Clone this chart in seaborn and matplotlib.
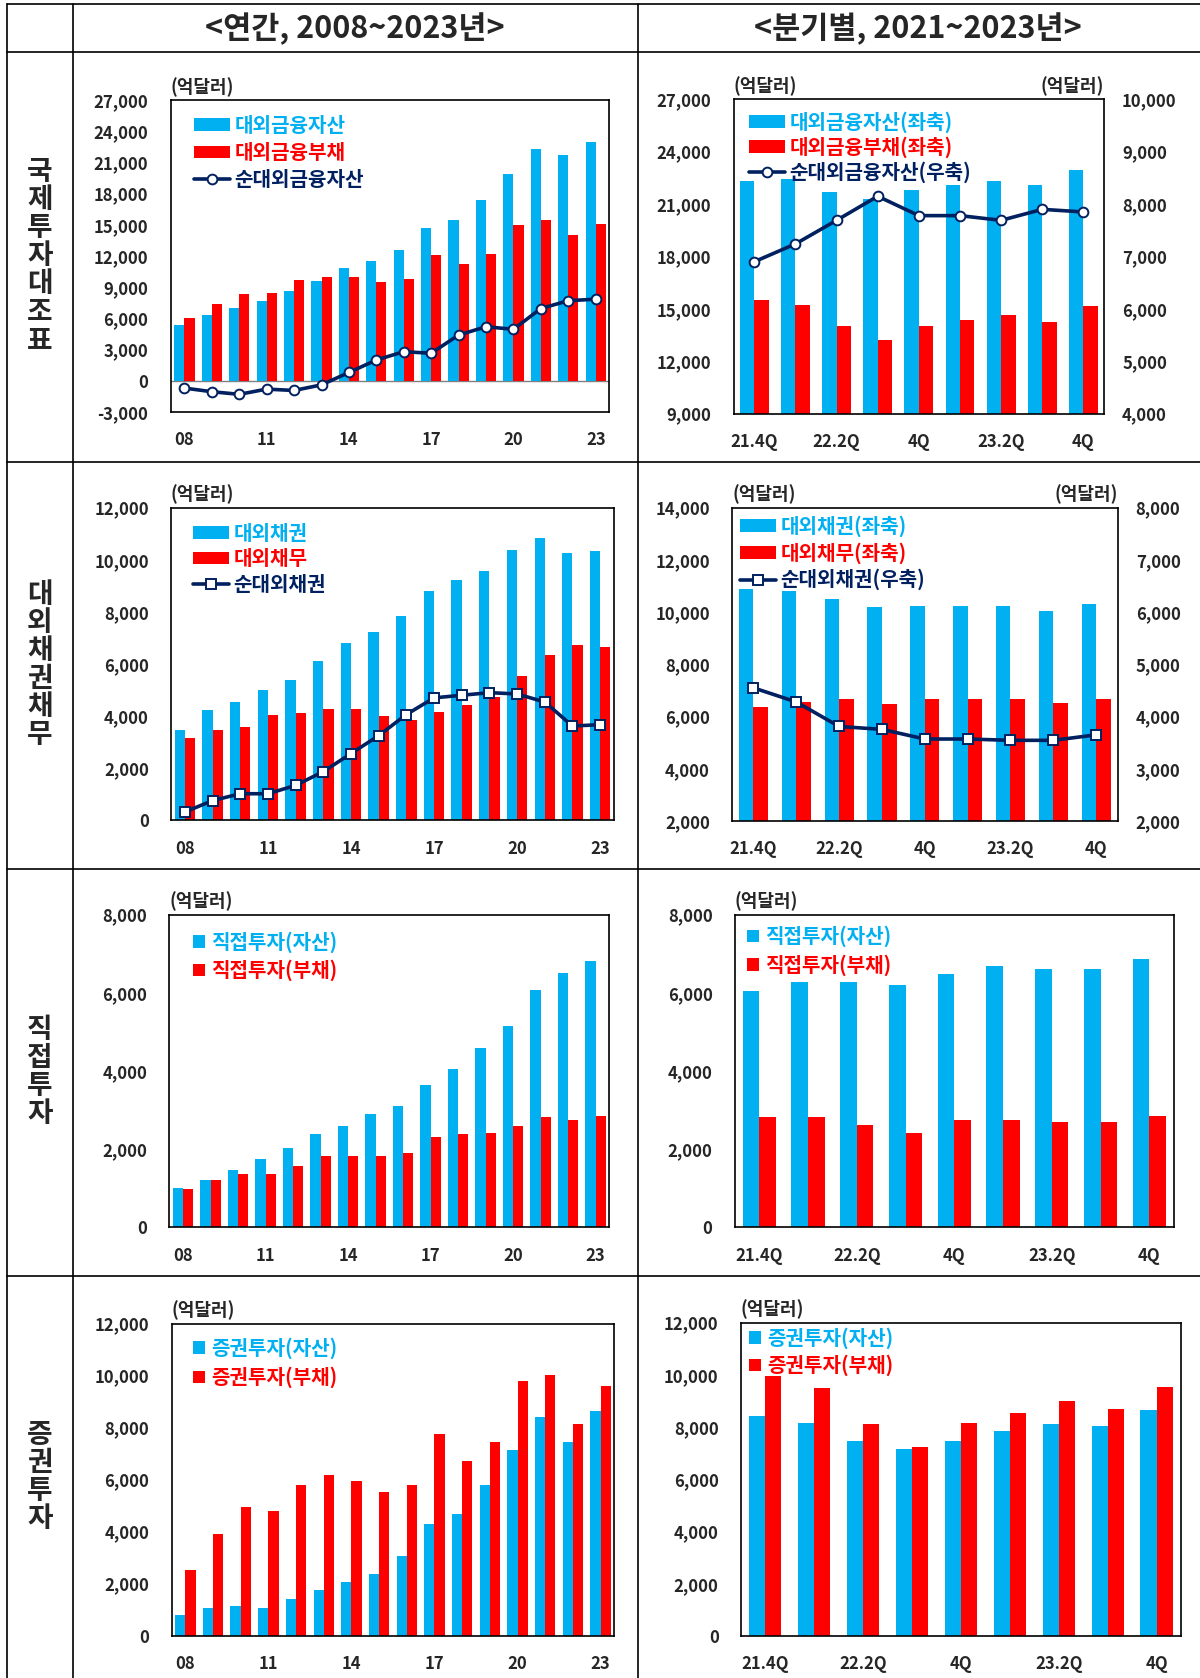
import numpy as np
import pandas as pd
import seaborn as sns
import matplotlib.pyplot as plt
from matplotlib.ticker import FuncFormatter
from matplotlib.patches import Patch
from matplotlib.lines import Line2D

sns.set_style('white')
plt.rcParams['font.family'] = ['Noto Sans CJK KR', 'DejaVu Sans']
plt.rcParams['font.weight'] = 'bold'

# ---- data (억달러) ----
years = ['08', '09', '10', '11', '12', '13', '14', '15',
         '16', '17', '18', '19', '20', '21', '22', '23']
year_ticks = ['08', '', '', '11', '', '', '14', '', '', '17', '', '', '20', '', '', '23']
quarters = ['21.4Q', '22.1Q', '22.2Q', '22.3Q', '22.4Q', '23.1Q', '23.2Q', '23.3Q', '23.4Q']
quarter_ticks = ['21.4Q', '', '22.2Q', '', '4Q', '', '23.2Q', '', '4Q']

# 국제투자대조표
iip_asset_y = [5400, 6300, 7000, 7650, 8600, 9600, 10800, 11500,
               12550, 14700, 15500, 17350, 19900, 22300, 21750, 23000]
iip_liab_y = [6040, 7350, 8300, 8400, 9650, 10000, 10000, 9500,
              9750, 12050, 11250, 12150, 15000, 15500, 14050, 15100]
iip_net_y = [-700, -1050, -1300, -800, -930, -390, 800, 2000,
             2800, 2650, 4400, 5200, 4950, 6950, 7700, 7850]
iip_asset_q = [22350, 22450, 21700, 21300, 21800, 22100, 22350, 22100, 22950]
iip_liab_q = [15500, 15200, 14000, 13200, 14000, 14350, 14650, 14250, 15150]
iip_net_q = [6900, 7240, 7690, 8150, 7780, 7780, 7690, 7900, 7850]

# 대외채권채무
debt_claim_y = [3480, 4220, 4540, 5020, 5390, 6130, 6820, 7240,
                7830, 8790, 9210, 9580, 10380, 10850, 10280, 10330]
debt_liab_y = [3160, 3480, 3580, 4060, 4120, 4270, 4270, 4000,
               3850, 4170, 4430, 4750, 5540, 6350, 6720, 6650]
debt_net_y = [320, 755, 1020, 1020, 1340, 1870, 2560, 3250,
              4060, 4700, 4800, 4900, 4850, 4540, 3620, 3670]
debt_claim_q = [10870, 10820, 10500, 10190, 10250, 10250, 10250, 10030, 10300]
debt_liab_q = [6350, 6570, 6670, 6470, 6670, 6670, 6670, 6520, 6670]
debt_net_q = [4550, 4280, 3810, 3755, 3570, 3570, 3545, 3545, 3650]

# 직접투자
fdi_asset_y = [1000, 1220, 1470, 1750, 2030, 2390, 2600, 2890,
               3100, 3630, 4050, 4590, 5160, 6070, 6510, 6820]
fdi_liab_y = [970, 1220, 1360, 1360, 1580, 1830, 1830, 1830,
              1890, 2320, 2390, 2420, 2600, 2810, 2750, 2850]
fdi_asset_q = [6060, 6280, 6280, 6200, 6490, 6680, 6600, 6600, 6860]
fdi_liab_q = [2810, 2810, 2630, 2410, 2740, 2740, 2700, 2700, 2850]

# 증권투자
port_asset_y = [780, 1050, 1150, 1050, 1420, 1740, 2060, 2380,
                3080, 4310, 4680, 5800, 7140, 8410, 7450, 8630]
port_liab_y = [2540, 3920, 4940, 4780, 5800, 6170, 5950, 5530,
               5800, 7770, 6710, 7450, 9800, 10010, 8140, 9590]
port_asset_q = [8420, 8160, 7470, 7150, 7470, 7840, 8110, 8040, 8640]
port_liab_q = [9960, 9480, 8110, 7250, 8160, 8530, 9000, 8680, 9530]

BLUE = '#00B0F0'
RED = '#FF0000'
NAVY = '#002060'
W, H = 1200, 1678

fig = plt.figure(figsize=(W / 100, H / 100), dpi=100)

# background table
bg = fig.add_axes([0, 0, 1, 1], zorder=-1)
bg.set_xlim(0, W)
bg.set_ylim(H, 0)
bg.axis('off')
for x in [7, 73, 637.5]:
    bg.plot([x, x], [4, H], color='black', lw=1.2)
for y in [4, 52, 462, 869, 1276]:
    bg.plot([7, W], [y, y], color='black', lw=1.2)
bg.text(355, 29, '<연간, 2008~2023년>', ha='center', va='center', fontsize=22)
bg.text(918, 29, '<분기별, 2021~2023년>', ha='center', va='center', fontsize=22)
for label, yc in [('국제투자대조표', 256), ('대외채권채무', 665),
                  ('직접투자', 1072), ('증권투자', 1477)]:
    bg.text(40, yc, '\n'.join(label), ha='center', va='center',
            fontsize=20, linespacing=1.0)


def rect(x0, y0, x1, y1):
    return [x0 / W, 1 - y1 / H, (x1 - x0) / W, (y1 - y0) / H]


fmt = FuncFormatter(lambda v, p: f'{v:,.0f}')


def panel(box, cats, ticklabels, a, l, ylim, ystep, width):
    ax = fig.add_axes(rect(*box))
    df = pd.DataFrame({'cat': cats * 2, 'val': a + l,
                       'kind': ['a'] * len(cats) + ['l'] * len(cats)})
    sns.barplot(data=df, x='cat', y='val', hue='kind', order=cats,
                palette=[BLUE, RED], width=width, gap=0, linewidth=0,
                saturation=1, errorbar=None, legend=False, ax=ax)
    ax.set_xlabel('')
    ax.set_ylabel('')
    ax.set_ylim(*ylim)
    ax.set_yticks(np.arange(ylim[0], ylim[1] + 1, ystep))
    ax.yaxis.set_major_formatter(fmt)
    ax.set_xticks(range(len(cats)))
    ax.set_xticklabels(ticklabels)
    ax.set_xlim(-0.5, len(cats) - 0.5)
    ax.tick_params(axis='y', length=0, labelsize=12, pad=16)
    ax.tick_params(axis='x', length=0, labelsize=12, pad=14)
    for s in ax.spines.values():
        s.set_color('black')
        s.set_linewidth(1.2)
    ax.text(0, 1.01, '(억달러)', transform=ax.transAxes, ha='left',
            va='bottom', fontsize=13)
    return ax


def add_line(ax, y, marker, ms):
    sns.lineplot(x=np.arange(len(y)), y=y, ax=ax, color=NAVY, lw=2.6,
                 marker=marker, markersize=ms, markerfacecolor='white',
                 markeredgecolor=NAVY, markeredgewidth=1.4, zorder=5)
    ax.set_xlim(-0.5, len(y) - 0.5)


def twin(ax, ylim, ystep):
    ax2 = ax.twinx()
    ax2.set_ylim(*ylim)
    ax2.set_yticks(np.arange(ylim[0], ylim[1] + 1, ystep))
    ax2.yaxis.set_major_formatter(fmt)
    ax2.tick_params(axis='y', length=0, labelsize=12, pad=13)
    for s in ax2.spines.values():
        s.set_visible(False)
    ax2.text(1, 1.01, '(억달러)', transform=ax2.transAxes, ha='right',
             va='bottom', fontsize=13)
    return ax2


def legend(ax, labels, colors, kinds, fx, fy, spacing):
    handles = []
    for c, k in zip(colors, kinds):
        if k == 'bar':
            handles.append(Patch(facecolor=c, edgecolor='none'))
        else:
            handles.append(Line2D([], [], color=NAVY, lw=2.6, marker=k,
                                  markersize=7, markerfacecolor='white',
                                  markeredgecolor=NAVY, markeredgewidth=1.4))
    big = len(kinds) == 3
    ax.legend(handles, labels, loc='upper left', bbox_to_anchor=(fx, fy),
              bbox_transform=ax.transAxes, frameon=False, borderpad=0,
              borderaxespad=0, fontsize=14.5, labelcolor=colors,
              handlelength=1.8 if big else 0.6,
              handleheight=0.6, handletextpad=0.2 if big else 0.3,
              labelspacing=spacing)


# row 1
ax = panel((170.7, 100, 609.4, 412), years, year_ticks,
           iip_asset_y, iip_liab_y, (-3000, 27000), 3000, 0.74)
ax.axhline(0, color='#808080', lw=1, zorder=0.5)
add_line(ax, iip_net_y, 'o', 7)
legend(ax, ['대외금융자산', '대외금융부채', '순대외금융자산'],
       [BLUE, RED, NAVY], ['bar', 'bar', 'o'], 0.053, 0.952, 0.3)

ax = panel((733.7, 99.3, 1104, 413.7), quarters, quarter_ticks,
           iip_asset_q, iip_liab_q, (9000, 27000), 3000, 0.70)
ax2 = twin(ax, (4000, 10000), 1000)
add_line(ax2, iip_net_q, 'o', 7)
legend(ax, ['대외금융자산(좌축)', '대외금융부채(좌축)', '순대외금융자산(우축)'],
       [BLUE, RED, NAVY], ['bar', 'bar', 'o'], 0.041, 0.963, 0.17)

# row 2
ax = panel((171, 507.7, 614, 820.3), years, year_ticks,
           debt_claim_y, debt_liab_y, (0, 12000), 2000, 0.74)
add_line(ax, debt_net_y, 's', 6.5)
legend(ax, ['대외채권', '대외채무', '순대외채권'],
       [BLUE, RED, NAVY], ['bar', 'bar', 's'], 0.05, 0.952, 0.22)

ax = panel((732, 507.7, 1117.6, 821), quarters, quarter_ticks,
           debt_claim_q, debt_liab_q, (2000, 14000), 2000, 0.68)
ax2 = twin(ax, (2000, 8000), 1000)
add_line(ax2, debt_net_q, 's', 6.5)
legend(ax, ['대외채권(좌축)', '대외채무(좌축)', '순대외채권(우축)'],
       [BLUE, RED, NAVY], ['bar', 'bar', 's'], 0.021, 0.975, 0.25)

# row 3
ax = panel((169.3, 914.7, 609.4, 1227.3), years, year_ticks,
           fdi_asset_y, fdi_liab_y, (0, 8000), 2000, 0.74)
legend(ax, ['직접투자(자산)', '직접투자(부채)'], [BLUE, RED],
       ['bar', 'bar'], 0.054, 0.948, 0.35)

ax = panel((734.8, 914.7, 1173.8, 1227.3), quarters, quarter_ticks,
           fdi_asset_q, fdi_liab_q, (0, 8000), 2000, 0.68)
legend(ax, ['직접투자(자산)', '직접투자(부채)'], [BLUE, RED],
       ['bar', 'bar'], 0.027, 0.965, 0.35)

# row 4
ax = panel((171.5, 1323.7, 614.4, 1635.7), years, year_ticks,
           port_asset_y, port_liab_y, (0, 12000), 2000, 0.74)
legend(ax, ['증권투자(자산)', '증권투자(부채)'], [BLUE, RED],
       ['bar', 'bar'], 0.049, 0.957, 0.4)

ax = panel((740.9, 1322.7, 1181, 1636), quarters, quarter_ticks,
           port_asset_q, port_liab_q, (0, 12000), 2000, 0.66)
legend(ax, ['증권투자(자산)', '증권투자(부채)'], [BLUE, RED],
       ['bar', 'bar'], 0.018, 0.986, 0.3)

fig.savefig('out.png', dpi=100)
